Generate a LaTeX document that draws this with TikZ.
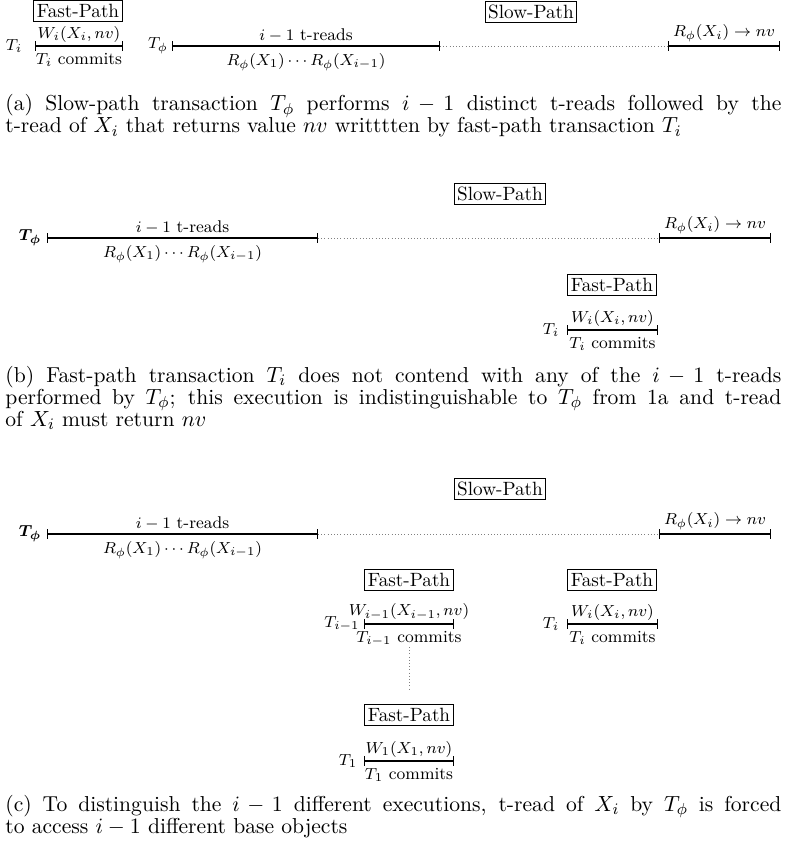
\documentclass[tikz,border=0pt]{standalone}
\usepackage{bm}
\usetikzlibrary{arrows.meta}

\begin{document}
\begin{tikzpicture}[x=0.5pt, y=-0.5pt,
    pathbox/.style={draw, inner xsep=1.5pt, inner ysep=1.8pt, font=\fontsize{9.6}{11.5}\selectfont},
    lbl/.style={font=\fontsize{8.5}{10}\selectfont},
    over/.style={lbl, above, inner sep=1.6pt},
    under/.style={lbl, below},
    run/.style={line width=0.7pt, {Bar[width=4.8pt]}-{Bar[width=4.8pt]}},
    idle/.style={gray, line width=0.4pt, dash pattern=on 0.4pt off 1.2pt},
    captext/.style={anchor=base west, text width=388pt, align=justify, inner sep=0pt, font=\fontsize{10.8}{11}\selectfont}]
    \useasboundingbox (0,0) rectangle (786,849);

    % (a)
    \node[pathbox] (fastA) at (78,11) {Fast-Path};
    \node[pathbox] (slowA) at (531,12) {Slow-Path};
    \node[lbl] (TiA) at (14,46) {$T_i$};
    \node[lbl] (TphiA) at (158,46) {$T_\phi$};
    \coordinate (a1) at (35,46);
    \coordinate (a2) at (123,46);
    \coordinate (p1) at (172,46);
    \coordinate (p2) at (440,46);
    \coordinate (p3) at (668,46);
    \coordinate (p4) at (780,46);
    \draw[run] (a1) -- node[over] (wA) {$W_i(X_i,nv)$} node[under] (cA) {$T_i$ commits} (a2);
    \draw[run] (p1) -- node[over] (rdA) {$i-1$ t-reads} node[under] (rsA) {$R_\phi(X_1)\cdots R_\phi(X_{i-1})$} (p2);
    \draw[idle] (p2) -- (p3);
    \draw[run] (p3) -- node[over] (lastA) {$R_\phi(X_i)\rightarrow nv$} (p4);
    \node[captext] (capA) at (5,111) {(a) Slow-path transaction $T_\phi$ performs $i-1$ distinct t-reads followed by the\linebreak t-read of $X_i$ that returns value $nv$ writttten by fast-path transaction $T_i$};

    % (b)
    \node[pathbox] (slowB) at (500,194) {Slow-Path};
    \node[lbl] (TphiB) at (30,238) {$\bm{T_\phi}$};
    \coordinate (q1) at (47,238);
    \coordinate (q2) at (318,238);
    \coordinate (q3) at (659,238);
    \coordinate (q4) at (771,238);
    \draw[run] (q1) -- node[over] (rdB) {$i-1$ t-reads} node[under] (rsB) {$R_\phi(X_1)\cdots R_\phi(X_{i-1})$} (q2);
    \draw[idle] (q2) -- (q3);
    \draw[run] (q3) -- node[over] (lastB) {$R_\phi(X_i)\rightarrow nv$} (q4);
    \node[pathbox] (fastB) at (612,285) {Fast-Path};
    \node[lbl] (TiB) at (551,330) {$T_i$};
    \coordinate (b1) at (567,330);
    \coordinate (b2) at (658,330);
    \draw[run] (b1) -- node[over] (wB) {$W_i(X_i,nv)$} node[under] (cB) {$T_i$ commits} (b2);
    \node[captext] (capB) at (5,382) {(b) Fast-path transaction $T_i$ does not contend with any of the $i-1$ t-reads\linebreak performed by $T_\phi$; this execution is indistinguishable to $T_\phi$ from 1a and t-read\linebreak of $X_i$ must return $nv$};

    % (c)
    \node[pathbox] (slowC) at (500,489) {Slow-Path};
    \node[lbl] (TphiC) at (30,534) {$\bm{T_\phi}$};
    \coordinate (r1) at (47,534);
    \coordinate (r2) at (318,534);
    \coordinate (r3) at (659,534);
    \coordinate (r4) at (771,534);
    \draw[run] (r1) -- node[over] (rdC) {$i-1$ t-reads} node[under] (rsC) {$R_\phi(X_1)\cdots R_\phi(X_{i-1})$} (r2);
    \draw[idle] (r2) -- (r3);
    \draw[run] (r3) -- node[over] (lastC) {$R_\phi(X_i)\rightarrow nv$} (r4);
    \node[pathbox] (fastC1) at (409,580) {Fast-Path};
    \node[pathbox] (fastC2) at (612,580) {Fast-Path};
    \node[lbl] (TjC) at (342,624) {$T_{i-1}$};
    \node[lbl] (TiC) at (551,624) {$T_i$};
    \coordinate (c1) at (364,624);
    \coordinate (c2) at (454,624);
    \coordinate (c3) at (567,624);
    \coordinate (c4) at (658,624);
    \draw[run] (c1) -- node[over] (wC1) {$W_{i-1}(X_{i-1},nv)$} node[under] (cC1) {$T_{i-1}$ commits} (c2);
    \draw[run] (c3) -- node[over] (wC2) {$W_i(X_i,nv)$} node[under] (cC2) {$T_i$ commits} (c4);
    \coordinate (v1) at (409,647);
    \coordinate (v2) at (409,690);
    \draw[idle] (v1) -- (v2);
    \node[pathbox] (fastC3) at (409,715) {Fast-Path};
    \node[lbl] (T1C) at (348,761) {$T_1$};
    \coordinate (d1) at (364,761);
    \coordinate (d2) at (454,761);
    \draw[run] (d1) -- node[over] (wC3) {$W_1(X_1,nv)$} node[under] (cC3) {$T_1$ commits} (d2);
    \node[captext] (capC) at (5,811) {(c) To distinguish the $i-1$ different executions, t-read of $X_i$ by $T_\phi$ is forced\linebreak to access $i-1$ different base objects};
\end{tikzpicture}
\end{document}
